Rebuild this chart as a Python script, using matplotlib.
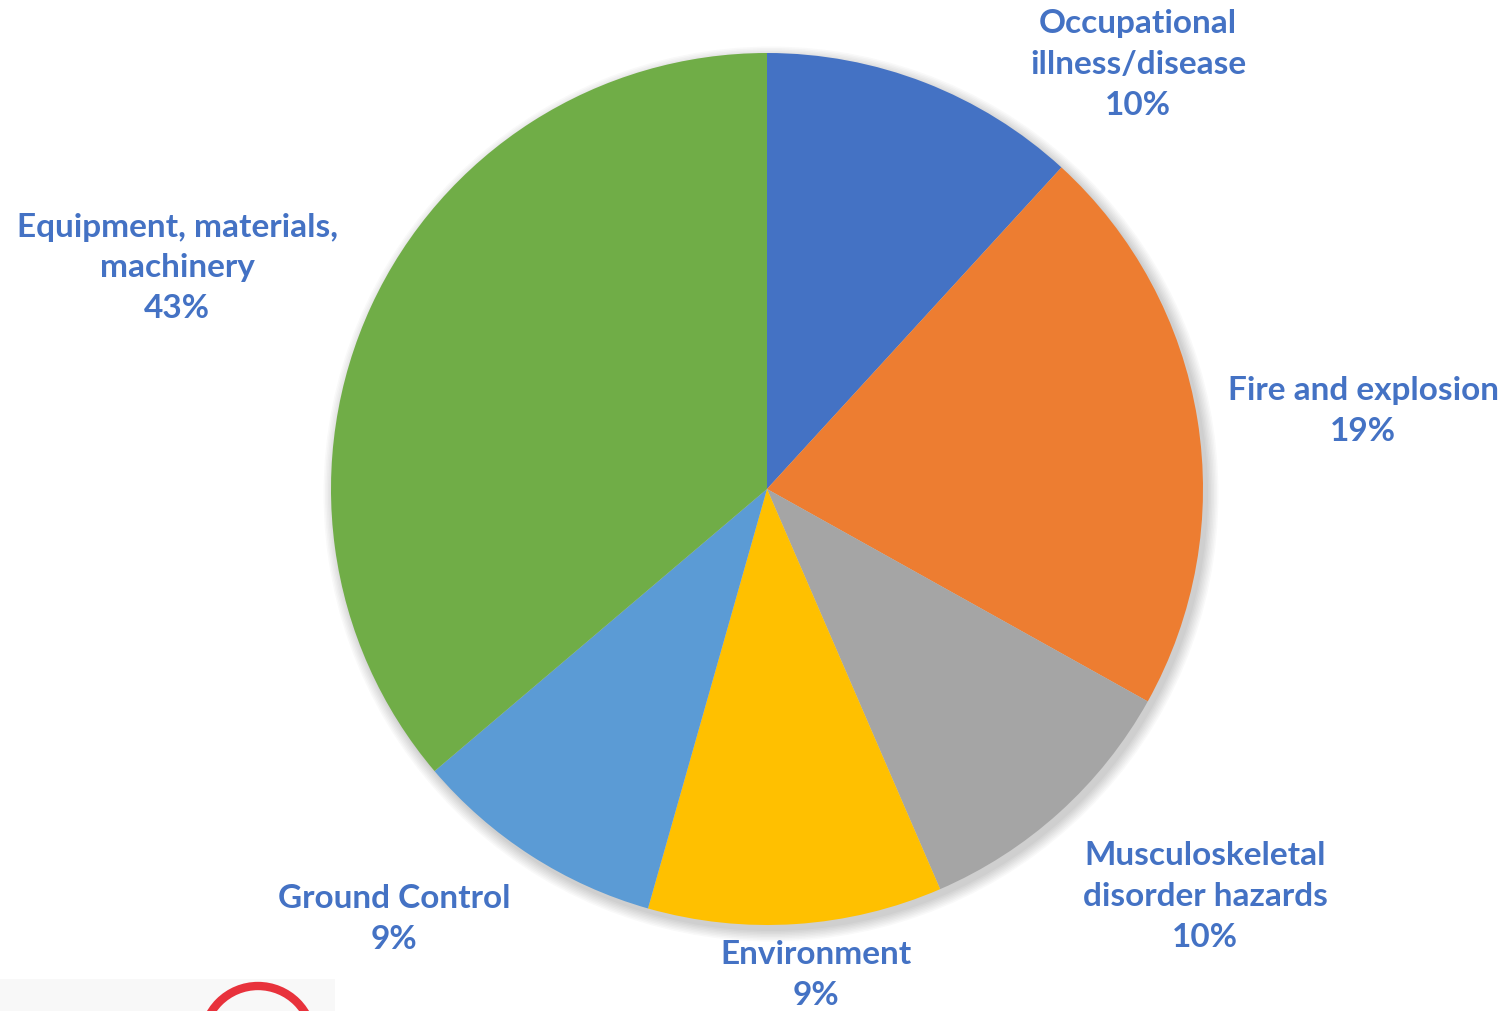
import matplotlib.pyplot as plt
from matplotlib.patches import Circle, Rectangle

# slice labels, printed percentages and slice sizes
labels = ['Occupational\nillness/disease', 'Fire and explosion',
          'Musculoskeletal\ndisorder hazards', 'Environment',
          'Ground Control', 'Equipment, materials,\nmachinery']
pct_text = ['10%', '19%', '10%', '9%', '9%', '43%']
sizes = [11.8, 21.3, 10.4, 10.9, 9.4, 36.2]
colors = ['#4472C4', '#ED7D31', '#A5A5A5', '#FFC000', '#5B9BD5', '#70AD47']

# label anchor points in pixel space (x, y from top)
label_xy = [(1138, 64), (1363, 411), (1205, 897), (816, 975), (394, 919), (177, 268)]

W, H = 1508, 1012
fig = plt.figure(figsize=(W / 100, H / 100), dpi=100)
ax = fig.add_axes([0, 0, 1, 1])

cx, cy, r = 767, H - 490, 436

# soft shadow to the lower right
for i in range(8):
    ax.add_patch(Circle((cx + 4, cy - 5), r + 1 + i * 1.5, color='black',
                        alpha=0.025, lw=0, zorder=0))

ax.pie(sizes, colors=colors, startangle=90, counterclock=False,
       center=(cx, cy), radius=r, frame=True,
       wedgeprops=dict(linewidth=0))
ax.set_xlim(0, W)
ax.set_ylim(0, H)
ax.set_aspect('equal')
ax.axis('off')

for lab, pct, (x, y) in zip(labels, pct_text, label_xy):
    ax.text(x, H - y, lab + '\n' + pct, ha='center', va='center',
            color='#4472C4', fontsize=24, fontweight='bold', family='Lato',
            linespacing=1.5)

# partial logo at the bottom left edge
ax.add_patch(Rectangle((0, 0), 335, H - 980, color='#f8f8f8', lw=0, zorder=1))
ax.add_patch(Circle((258, H - 1042), 55, fill=False, ec='#e8323c', lw=6, zorder=2))

fig.savefig('out.png', dpi=100)
